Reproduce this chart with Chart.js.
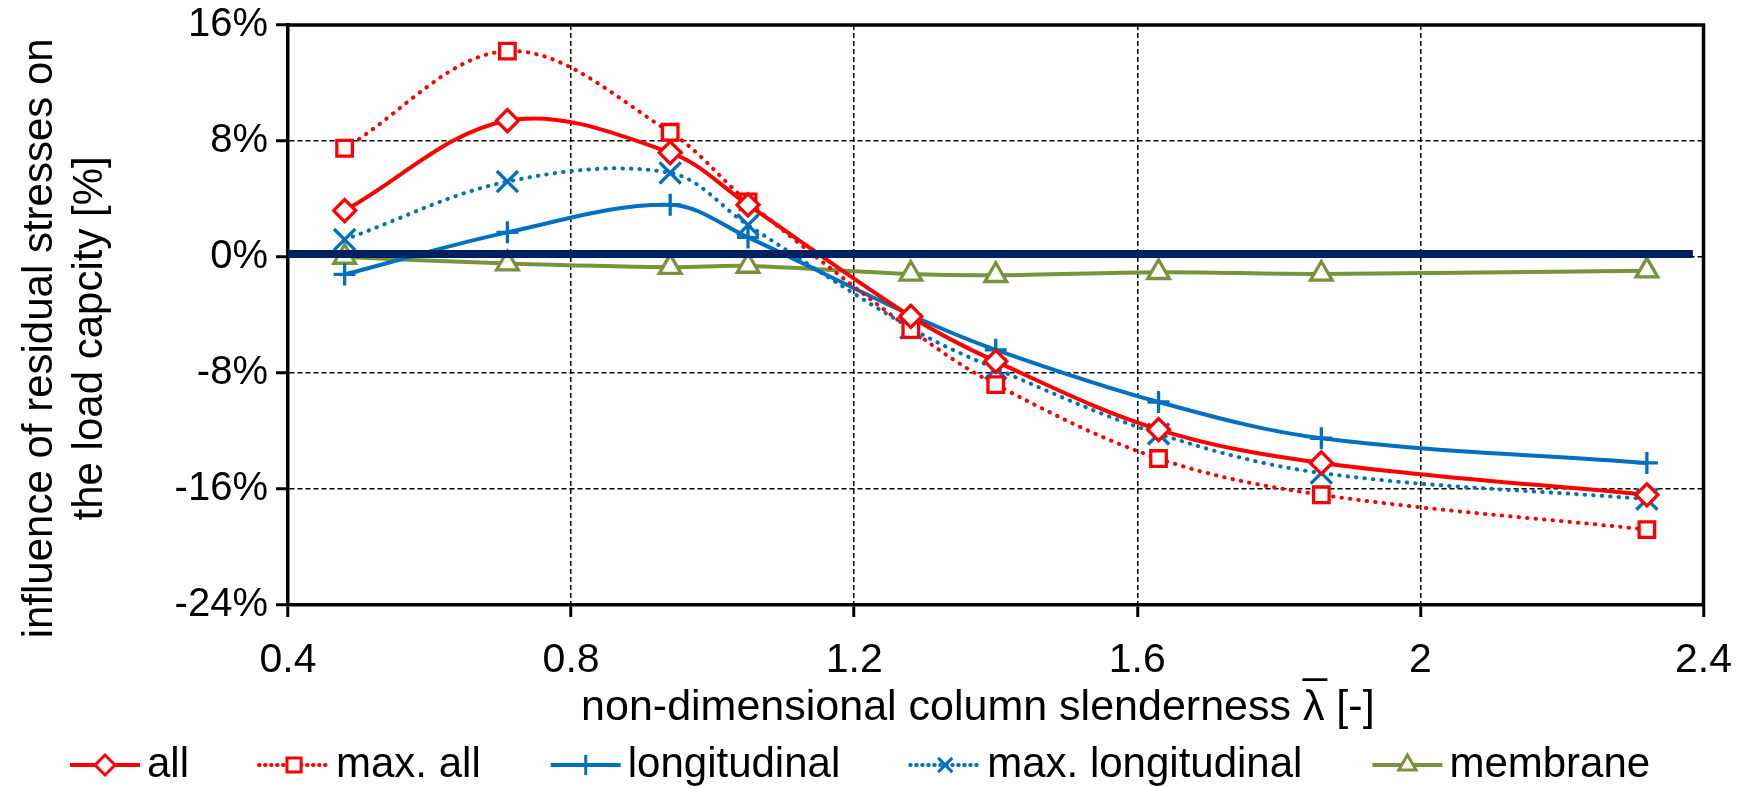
<!DOCTYPE html>
<html><head><meta charset="utf-8">
<script src="https://cdn.jsdelivr.net/npm/chart.js@4.4.0/dist/chart.umd.min.js"></script>
<style>html,body{margin:0;padding:0;background:#fff;}#wrap{width:1751px;height:787px;}</style>
</head><body><div id="wrap"><canvas id="c" width="1751" height="787"></canvas></div>
<script>
// ---- data ----
const lambda          = [0.48, 0.71, 0.94, 1.05, 1.28, 1.40, 1.63, 1.86, 2.32];
const allVals         = [3.2, 9.4, 7.2, 3.6, -4.1, -7.2, -11.9, -14.2, -16.4];
const maxAllVals      = [7.5, 14.2, 8.6, 3.8, -5.0, -8.8, -13.9, -16.4, -18.8];
const longVals        = [-1.2, 1.7, 3.6, 1.35, -4.0, -6.4, -10.0, -12.5, -14.2];
const maxLongVals     = [1.2, 5.2, 5.8, 2.2, -4.9, -7.7, -12.2, -14.9, -16.7];
const membraneVals    = [0.0, -0.45, -0.7, -0.62, -1.17, -1.26, -1.05, -1.17, -0.94];
const refLineX        = [0.4, 2.385];
const refLineY        = [0.2, 0.2];
const xTicks          = [0.4, 0.8, 1.2, 1.6, 2, 2.4];
const yTicks          = [-24, -16, -8, 0, 8, 16];
const seriesNames     = ['all', 'max. all', 'longitudinal', 'max. longitudinal', 'membrane'];
const xTitle          = 'non-dimensional column slenderness λ [-]   ';
const yTitle          = ['influence of residual stresses on    ', 'the load capcity [%]    '];

const FONT = "'Liberation Sans', Arial, Helvetica, sans-serif";
const RED = '#FF0000', BLUE = '#0070C0', GREEN = '#77933C', NAVY = '#002060';
const pts = (ys) => lambda.map((x, i) => ({x: x, y: ys[i]}));

function ds(label, ys, color, dotted, style, radius, fill) {
  return {
    label: label, data: pts(ys), borderColor: color, backgroundColor: fill,
    borderWidth: 4, borderDash: dotted ? [0.5, 8] : [],
    borderCapStyle: dotted ? 'round' : 'butt',
    tension: 0.35, pointStyle: style, pointRadius: radius, pointBorderWidth: 3.3,
    pointBorderColor: color, pointBackgroundColor: fill, order: 1
  };
}

const datasets = [
  ds(seriesNames[0], allVals, RED, false, 'rectRot', 11, '#fff'),
  ds(seriesNames[1], maxAllVals, RED, true, 'rect', 11, '#fff'),
  ds(seriesNames[2], longVals, BLUE, false, 'cross', 11, BLUE),
  ds(seriesNames[3], maxLongVals, BLUE, true, 'crossRot', 15, BLUE),
  ds(seriesNames[4], membraneVals, GREEN, false, 'triangle', 12.5, '#fff'),
  {label: 'zero', data: refLineX.map((x, i) => ({x: x, y: refLineY[i]})), borderColor: NAVY,
   borderWidth: 8, pointRadius: 0, tension: 0, order: -1}
];

const LEG_FONT = 42, LEG_BOX = 123, X_TITLE_FONT = 43, X_TITLE_PB = 7;

function drawMarker(ctx, style, r, x, y, bw) {
  if (Chart.helpers && Chart.helpers.drawPoint) {
    Chart.helpers.drawPoint(ctx, {pointStyle: style, radius: r, borderWidth: bw, rotation: 0}, x, y);
  }
}

const framePlugin = {
  id: 'frame',
  afterDraw(chart) {
    const {ctx, chartArea: a} = chart;
    ctx.save();
    ctx.strokeStyle = '#000'; ctx.lineWidth = 3.5; ctx.lineCap = 'square';
    ctx.beginPath();
    ctx.moveTo(a.left, a.top); ctx.lineTo(a.right, a.top); ctx.lineTo(a.right, a.bottom);
    ctx.stroke();
    ctx.restore();
  }
};

const overbarPlugin = {
  id: 'overbar',
  afterDraw(chart) {
    const ctx = chart.ctx, xs = chart.scales.x;
    const fs = X_TITLE_FONT;
    ctx.save();
    ctx.font = fs + 'px ' + FONT;
    const full = ctx.measureText(xTitle).width;
    const pre = ctx.measureText(xTitle.slice(0, xTitle.indexOf('λ'))).width;
    const left = (xs.left + xs.right) / 2 - full / 2 + pre;
    const titleY = xs.bottom - fs * 1.2 / 2 - X_TITLE_PB;
    ctx.fillStyle = '#000'; ctx.textAlign = 'left'; ctx.textBaseline = 'middle';
    ctx.fillText('_', left, titleY - 47);
    ctx.restore();
  }
};

const legendLinePlugin = {
  id: 'legendLines',
  afterDraw(chart) {
    const lg = chart.legend; if (!lg || !lg.legendHitBoxes) return;
    const ctx = chart.ctx;
    lg.legendItems.forEach((item, i) => {
      const hb = lg.legendHitBoxes[i];
      const d = chart.data.datasets[item.datasetIndex];
      const textX = hb.left + LEG_BOX + LEG_FONT / 2;
      const x1 = textX - 7, x0 = x1 - 70, y = hb.top + hb.height / 2;
      ctx.save();
      ctx.strokeStyle = d.borderColor; ctx.lineWidth = d.borderWidth;
      ctx.setLineDash(d.borderDash && d.borderDash.length ? [0.5, 5.5] : []);
      ctx.lineCap = d.borderCapStyle || 'butt';
      ctx.beginPath(); ctx.moveTo(x0, y); ctx.lineTo(x1, y); ctx.stroke();
      ctx.setLineDash([]); ctx.lineCap = 'butt';
      ctx.fillStyle = d.pointBackgroundColor; ctx.strokeStyle = d.pointBorderColor;
      ctx.lineWidth = 3;
      drawMarker(ctx, d.pointStyle, Math.min(d.pointRadius, 10), (x0 + x1) / 2, y, 3);
      ctx.restore();
    });
  }
};

new Chart(document.getElementById('c'), {
  type: 'line',
  data: {datasets: datasets},
  plugins: [framePlugin, overbarPlugin, legendLinePlugin],
  options: {
    responsive: false, animation: false, devicePixelRatio: 1,
    layout: {padding: {top: 25, right: 46, bottom: -9, left: 0}},
    plugins: {
      tooltip: {enabled: false},
      legend: {
        position: 'bottom', align: 'start',
        labels: {
          font: {family: FONT, size: LEG_FONT, lineHeight: 1}, color: '#000',
          boxWidth: LEG_BOX, padding: 3,
          filter: (it) => it.text !== 'zero',
          generateLabels: (chart) => Chart.defaults.plugins.legend.labels.generateLabels(chart)
            .map(l => Object.assign(l, {fillStyle: 'rgba(0,0,0,0)', strokeStyle: 'rgba(0,0,0,0)', lineWidth: 0}))
        }
      }
    },
    scales: {
      x: {
        type: 'linear', min: 0.4, max: 2.4,
        afterBuildTicks: (s) => { s.ticks = xTicks.map(v => ({value: v})); },
        afterFit: (s) => { s.height = 136; },
        ticks: {font: {family: FONT, size: 41}, color: '#000', padding: 19,
                callback: (v) => String(v)},
        grid: {color: '#000', lineWidth: 1.5, tickLength: 12, tickWidth: 3, tickColor: '#000'},
        border: {display: true, color: '#000', width: 3.5, dash: [5, 3]},
        title: {display: true, text: xTitle, font: {family: FONT, size: X_TITLE_FONT}, color: '#000',
                padding: {top: 0, bottom: X_TITLE_PB}}
      },
      y: {
        type: 'linear', min: -24, max: 16,
        afterBuildTicks: (s) => { s.ticks = yTicks.map(v => ({value: v})); },
        afterFit: (s) => { s.width = 288; },
        ticks: {font: {family: FONT, size: 40, lineHeight: 0.85}, color: '#000', padding: 8,
                callback: (v) => v + '%'},
        grid: {color: '#000', lineWidth: 1.5, tickLength: 12, tickWidth: 3, tickColor: '#000'},
        border: {display: true, color: '#000', width: 3.5, dash: [5, 3]},
        title: {display: true, text: yTitle, font: {family: FONT, size: 42}, color: '#000',
                padding: {top: 15, bottom: 0}}
      }
    }
  }
});
</script></body></html>
